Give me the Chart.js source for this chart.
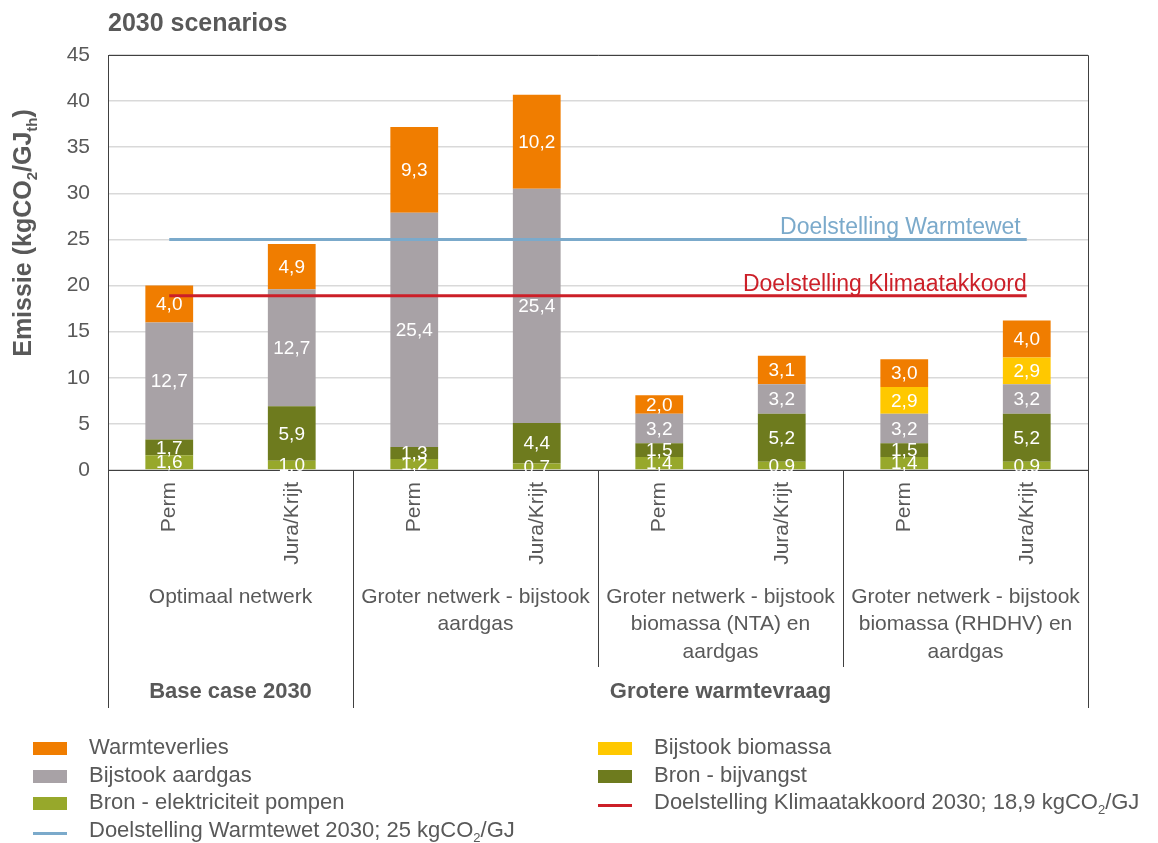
<!DOCTYPE html>
<html>
<head>
<meta charset="utf-8">
<script src="https://cdn.jsdelivr.net/npm/chart.js@4.4.1/dist/chart.umd.min.js"></script>
<style>
  html, body { margin: 0; padding: 0; background: #fff; }
  #wrap { width: 1158px; height: 843px; }
</style>
</head>
<body>
<div id="wrap"><canvas id="myChart" width="1158" height="843"></canvas></div>
<script>
// categorieen (onderste laag van de x-as)
var categorieen = ["Perm", "Jura/Krijt", "Perm", "Jura/Krijt", "Perm", "Jura/Krijt", "Perm", "Jura/Krijt"];
var groepen = [
    ["Optimaal netwerk"],
    ["Groter netwerk - bijstook", "aardgas"],
    ["Groter netwerk - bijstook", "biomassa (NTA) en", "aardgas"],
    ["Groter netwerk - bijstook", "biomassa (RHDHV) en", "aardgas"]
];
var hoofdgroepen = ["Base case 2030", "Grotere warmtevraag"];

// waarden in kgCO2/GJth, van onder naar boven gestapeld
var elektriciteitPompen = [1.6, 1.0, 1.2, 0.7, 1.4, 0.9, 1.4, 0.9];
var bijvangst = [1.7, 5.9, 1.3, 4.4, 1.5, 5.2, 1.5, 5.2];
var bijstookAardgas = [12.7, 12.7, 25.4, 25.4, 3.2, 3.2, 3.2, 3.2];
var bijstookBiomassa = [0, 0, 0, 0, 0, 0, 2.9, 2.9];
var warmteverlies = [4.0, 4.9, 9.3, 10.2, 2.0, 3.1, 3.0, 4.0];

var doelWarmtewet = 25;
var doelKlimaatakkoord = 18.9;
var yTicks = [0, 5, 10, 15, 20, 25, 30, 35, 40, 45];

var kleuren = {
    pompen: "#97A82B",
    bijvangst: "#6E7B1E",
    aardgas: "#A8A2A6",
    biomassa: "#FFC800",
    verlies: "#F07D00",
    warmtewet: "#7BAACB",
    klimaat: "#CC1F28"
};
var tekstKleur = "#595959";
var lijnKleur = "#404040";
var FONT = "'Liberation Sans', Arial, sans-serif";

function komma(v){
    return v.toFixed(1).replace(".", ",");
}

// tekst met subscript stukjes: parts = [[tekst, sub], ...]
function richBreedte(ctx, parts, size, bold){
    var w = 0;
    parts.forEach(function(p){
        ctx.font = (bold ? "bold " : "") + (p[1] ? Math.round(size*0.6) : size) + "px " + FONT;
        w += ctx.measureText(p[0]).width;
    });
    return w;
}
function richTekst(ctx, parts, x, y, size, bold){
    ctx.textAlign = "left";
    ctx.textBaseline = "middle";
    parts.forEach(function(p){
        var s = p[1] ? Math.round(size*0.6) : size;
        ctx.font = (bold ? "bold " : "") + s + "px " + FONT;
        ctx.fillText(p[0], x, p[1] ? y + size*0.35 : y);
        x += ctx.measureText(p[0]).width;
    });
}

var extraTekst = {
    id: "extraTekst",
    afterDatasetsDraw: function(chart){
        var ctx = chart.ctx;
        // waardelabels in de balken
        ctx.save();
        ctx.fillStyle = "#fff";
        ctx.font = "19px " + FONT;
        ctx.textAlign = "center";
        ctx.textBaseline = "middle";
        for(var d = 0; d < 5; d++){
            var meta = chart.getDatasetMeta(d);
            var data = chart.data.datasets[d].data;
            meta.data.forEach(function(el, i){
                if(data[i] > 0){
                    ctx.fillText(komma(data[i]), el.x, (el.y + el.base)/2 + 1);
                }
            });
        }
        // labels bij de doellijnen
        var x = chart.scales.x, y = chart.scales.y;
        ctx.font = "23px " + FONT;
        ctx.textAlign = "right";
        ctx.fillStyle = kleuren.warmtewet;
        ctx.fillText("Doelstelling Warmtewet", x.getPixelForValue(7) - 6, y.getPixelForValue(doelWarmtewet) - 12);
        ctx.fillStyle = kleuren.klimaat;
        ctx.fillText("Doelstelling Klimaatakkoord", x.getPixelForValue(7), y.getPixelForValue(doelKlimaatakkoord) - 11);
        ctx.restore();
    },
    afterDraw: function(chart){
        var ctx = chart.ctx;
        var a = chart.chartArea;
        var x = chart.scales.x;
        ctx.save();
        // kader boven en rechts
        ctx.strokeStyle = lijnKleur;
        ctx.lineWidth = 1;
        ctx.beginPath();
        ctx.moveTo(a.left, a.top + 0.5);
        ctx.lineTo(a.right + 0.5, a.top + 0.5);
        ctx.lineTo(a.right + 0.5, a.bottom);
        ctx.stroke();

        // scheidingslijnen onder de as
        var stap = (a.right - a.left) / categorieen.length;
        var grenzen = [[0, 708], [2, 708], [4, 667], [6, 667], [8, 708]];
        ctx.beginPath();
        grenzen.forEach(function(g){
            var px = Math.round(a.left + g[0]*stap) + 0.5;
            ctx.moveTo(px, a.bottom);
            ctx.lineTo(px, g[1]);
        });
        ctx.stroke();

        // groepslabels
        ctx.fillStyle = tekstKleur;
        ctx.font = "21px " + FONT;
        ctx.textAlign = "center";
        ctx.textBaseline = "middle";
        groepen.forEach(function(regels, g){
            var cx = (x.getPixelForValue(g*2) + x.getPixelForValue(g*2 + 1)) / 2;
            regels.forEach(function(r, k){
                ctx.fillText(r, cx, 597 + k*27.5);
            });
        });
        ctx.font = "bold 22px " + FONT;
        ctx.fillText(hoofdgroepen[0], (x.getPixelForValue(0) + x.getPixelForValue(1)) / 2, 692);
        ctx.fillText(hoofdgroepen[1], (x.getPixelForValue(2) + x.getPixelForValue(7)) / 2, 692);

        // titel
        ctx.textAlign = "left";
        ctx.font = "bold 25px " + FONT;
        ctx.fillText("2030 scenarios", a.left, 24);

        // y-as titel
        var yt = [["Emissie (kgCO"], ["2", true], ["/GJ"], ["th", true], [")"]];
        ctx.translate(24, 233);
        ctx.rotate(-Math.PI/2);
        var bw = richBreedte(ctx, yt, 25, true);
        richTekst(ctx, yt, -bw/2, 0, 25, true);
        ctx.setTransform(1, 0, 0, 1, 0, 0);

        // legenda
        var items = [
            {x: 33, y: 748, kleur: kleuren.verlies, tekst: [["Warmteverlies"]]},
            {x: 33, y: 776, kleur: kleuren.aardgas, tekst: [["Bijstook aardgas"]]},
            {x: 33, y: 803, kleur: kleuren.pompen, tekst: [["Bron - elektriciteit pompen"]]},
            {x: 33, y: 831, kleur: kleuren.warmtewet, lijn: true, tekst: [["Doelstelling Warmtewet 2030; 25 kgCO"], ["2", true], ["/GJ"]]},
            {x: 598, y: 748, kleur: kleuren.biomassa, tekst: [["Bijstook biomassa"]]},
            {x: 598, y: 776, kleur: kleuren.bijvangst, tekst: [["Bron - bijvangst"]]},
            {x: 598, y: 803, kleur: kleuren.klimaat, lijn: true, tekst: [["Doelstelling Klimaatakkoord 2030; 18,9 kgCO"], ["2", true], ["/GJ"]]}
        ];
        items.forEach(function(it){
            ctx.fillStyle = it.kleur;
            if(it.lijn){
                ctx.fillRect(it.x, it.y + 1, 34, 3);
            } else {
                ctx.fillRect(it.x, it.y - 6, 34, 13);
            }
            ctx.fillStyle = tekstKleur;
            richTekst(ctx, it.tekst, it.x + 56, it.y, 22, false);
        });
        ctx.restore();
    }
};

function balk(label, data, kleur){
    return {
        type: "bar",
        label: label,
        data: data,
        backgroundColor: kleur,
        stack: "balk",
        barPercentage: 0.39,
        categoryPercentage: 1.0,
        order: 2
    };
}
function doel(label, waarde, kleur, stack){
    return {
        type: "line",
        label: label,
        data: categorieen.map(function(){ return waarde; }),
        borderColor: kleur,
        borderWidth: 3,
        pointRadius: 0,
        fill: false,
        stack: stack,
        order: 1
    };
}

new Chart("myChart", {
    data: {
        labels: categorieen,
        datasets: [
            balk("Bron - elektriciteit pompen", elektriciteitPompen, kleuren.pompen),
            balk("Bron - bijvangst", bijvangst, kleuren.bijvangst),
            balk("Bijstook aardgas", bijstookAardgas, kleuren.aardgas),
            balk("Bijstook biomassa", bijstookBiomassa, kleuren.biomassa),
            balk("Warmteverlies", warmteverlies, kleuren.verlies),
            doel("Doelstelling Warmtewet 2030", doelWarmtewet, kleuren.warmtewet, "w"),
            doel("Doelstelling Klimaatakkoord 2030", doelKlimaatakkoord, kleuren.klimaat, "k")
        ]
    },
    options: {
        responsive: false,
        animation: false,
        layout: { padding: { top: 55, right: 70, left: 0, bottom: 0 } },
        plugins: {
            legend: { display: false },
            title: { display: false },
            tooltip: { enabled: false }
        },
        scales: {
            x: {
                stacked: true,
                grid: { display: false },
                border: { display: true, color: lijnKleur, width: 1 },
                ticks: {
                    autoSkip: false,
                    minRotation: 90,
                    maxRotation: 90,
                    padding: 4,
                    color: tekstKleur,
                    font: { size: 21, family: FONT }
                },
                afterFit: function(s){ s.height = 373; }
            },
            y: {
                stacked: true,
                min: 0,
                max: 45,
                afterBuildTicks: function(s){ s.ticks = yTicks.map(function(v){ return {value: v}; }); },
                grid: { color: "#D9D9D9", lineWidth: 1.5, drawTicks: false },
                border: { display: true, color: lijnKleur, width: 1 },
                ticks: {
                    padding: 18,
                    color: tekstKleur,
                    font: { size: 21, family: FONT }
                },
                afterFit: function(s){ s.width = 108; }
            }
        }
    },
    plugins: [extraTekst]
});
</script>
</body>
</html>
